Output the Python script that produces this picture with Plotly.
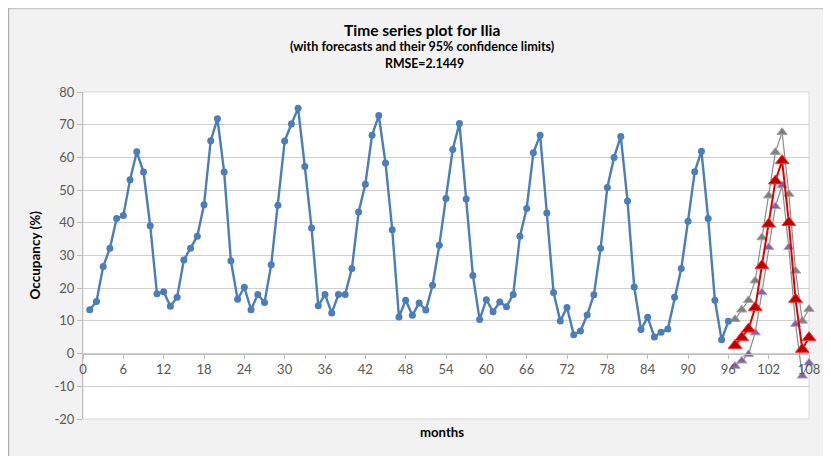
import plotly.graph_objects as go

# ---------------- data ----------------
months = list(range(1, 97))
occupancy = [
    13.4, 15.9, 26.6, 32.2, 41.3, 42.2, 53.2, 61.7, 55.5, 39.1, 18.3, 18.9,
    14.5, 17.2, 28.6, 32.2, 35.9, 45.5, 65.1, 71.8, 55.5, 28.4, 16.6, 20.3,
    13.4, 18.1, 15.6, 27.2, 45.4, 65.0, 70.2, 75.0, 57.2, 38.4, 14.6, 18.1,
    12.4, 18.1, 18.1, 26.0, 43.3, 51.8, 66.8, 72.8, 58.3, 37.9, 11.2, 16.3,
    11.7, 15.5, 13.3, 20.9, 33.1, 47.4, 62.4, 70.4, 47.3, 23.9, 10.4, 16.5,
    12.8, 15.8, 14.3, 18.1, 35.9, 44.4, 61.4, 66.8, 43.0, 18.7, 10.0, 14.1,
    5.8, 6.9, 11.8, 18.0, 32.2, 50.8, 60.0, 66.4, 46.7, 20.4, 7.4, 11.1,
    5.1, 6.5, 7.5, 17.2, 26.0, 40.5, 55.6, 61.9, 41.3, 16.3, 4.2, 9.9,
]
fc_months = list(range(97, 109))
forecast = [2.5, 4.9, 7.5, 14.1, 26.9, 39.6, 52.8, 59.0, 40.1, 16.6, 1.3, 4.9]
upper = [10.5, 13.4, 16.3, 22.3, 35.5, 48.3, 61.6, 67.7, 48.8, 25.3, 10.0, 13.6]
lower = [-3.8, -2.2, -0.2, 6.4, 18.7, 32.5, 45.0, 51.4, 32.5, 9.0, -6.8, -2.8]

x_ticks = list(range(0, 109, 6))
y_ticks = list(range(-20, 81, 10))

title_main = "Time series plot for Ilia"
title_sub = "(with forecasts and their 95% confidence limits)"
title_rmse = "RMSE=2.1449"
x_title = "months"
y_title = "Occupancy (%)"

# ---------------- figure ----------------
FONT = "Lato, 'Open Sans', sans-serif"
OFF = 8  # page body margin
W, H = 831 - OFF, 456 - OFF
# plot area in screen pixels: x 83..809, y 92..419
ML = 83 - OFF
MT = 92 - OFF
MR = W - (809 - OFF)
MB = H - (419 - OFF)
PW, PH = W - ML - MR, H - MT - MB


def px_x(p):  # screen px -> paper x
    return (p - OFF - ML) / PW


def px_y(p):  # screen px -> paper y
    return (H - MB - (p - OFF)) / PH


fig = go.Figure()

fig.add_trace(go.Scatter(
    x=fc_months, y=upper, mode="lines+markers", cliponaxis=False,
    line=dict(color="#8c8c8c", width=1.2),
    marker=dict(symbol="triangle-up", size=9, color="#7f7f7f",
                line=dict(color="#a6a6a6", width=1)),
    showlegend=False, hoverinfo="x+y"))

fig.add_trace(go.Scatter(
    x=fc_months, y=lower, mode="lines+markers", cliponaxis=False,
    line=dict(color="#8c8c8c", width=1.2),
    marker=dict(symbol="triangle-up", size=9, color="#8064a2",
                line=dict(color="#b3a2c7", width=1)),
    showlegend=False, hoverinfo="x+y"))

fig.add_trace(go.Scatter(
    x=fc_months, y=forecast, mode="lines+markers", cliponaxis=False,
    line=dict(color="#e00000", width=2.0),
    marker=dict(symbol="triangle-up", size=12, color="#c00000",
                line=dict(color="#ff3333", width=1)),
    showlegend=False, hoverinfo="x+y"))

fig.add_trace(go.Scatter(
    x=months, y=occupancy, mode="lines+markers", cliponaxis=False,
    line=dict(color="#4a7ebb", width=2.4),
    marker=dict(symbol="circle", size=7, color="#4a7ebb"),
    showlegend=False, hoverinfo="x+y"))

shapes = [
    # chart frame border (top and left)
    dict(type="line", xref="paper", yref="paper",
         x0=px_x(OFF), x1=px_x(900), y0=px_y(OFF + 0.5), y1=px_y(OFF + 0.5),
         line=dict(color="#c8c8c8", width=1.5), layer="below"),
    dict(type="line", xref="paper", yref="paper",
         x0=px_x(OFF + 0.5), x1=px_x(OFF + 0.5), y0=px_y(OFF), y1=px_y(500),
         line=dict(color="#b0b0b0", width=1.5), layer="below"),
    # plot-area border
    dict(type="rect", xref="paper", yref="paper", x0=0, x1=1, y0=0, y1=1,
         line=dict(color="#d9d9d9", width=1), fillcolor="rgba(0,0,0,0)",
         layer="below"),
]

annotations = [
    dict(text="<b>" + title_main + "</b>", x=px_x(422), y=px_y(30),
         xref="paper", yref="paper", showarrow=False,
         font=dict(size=15.5, color="#000000", family=FONT),
         xanchor="center", yanchor="middle"),
    dict(text="<b>" + title_sub + "</b>", x=px_x(422), y=px_y(47),
         xref="paper", yref="paper", showarrow=False,
         font=dict(size=12.6, color="#000000", family=FONT),
         xanchor="center", yanchor="middle"),
    dict(text="<b>" + title_rmse + "</b>", x=px_x(424), y=px_y(63),
         xref="paper", yref="paper", showarrow=False,
         font=dict(size=12.3, color="#000000", family=FONT),
         xanchor="center", yanchor="middle"),
    dict(text="<b>" + x_title + "</b>", x=px_x(442), y=px_y(432),
         xref="paper", yref="paper", showarrow=False,
         font=dict(size=13.2, color="#000000", family=FONT),
         xanchor="center", yanchor="middle"),
    dict(text="<b>" + y_title + "</b>", x=px_x(34), y=0.5,
         xref="paper", yref="paper", showarrow=False, textangle=-90,
         font=dict(size=13.5, color="#000000", family=FONT),
         xanchor="center", yanchor="middle"),
]

fig.update_layout(
    width=W, height=H,
    margin=dict(l=ML, r=MR, t=MT, b=MB, pad=0),
    paper_bgcolor="#f2f2f2",
    plot_bgcolor="white",
    font=dict(family=FONT, size=13, color="#595959"),
    showlegend=False,
    shapes=shapes,
    annotations=annotations,
    xaxis=dict(
        range=[0, 108], tickvals=x_ticks, ticktext=[str(t) for t in x_ticks],
        anchor="free", position=0.2,
        showgrid=False, zeroline=False,
        showline=True, linecolor="#bfbfbf", linewidth=1,
        ticks="outside", ticklen=4, tickcolor="#bfbfbf",
        tickfont=dict(size=13, color="#595959", family=FONT),
    ),
    yaxis=dict(
        range=[-20, 80], tickvals=y_ticks, ticktext=[str(t) for t in y_ticks],
        showgrid=True, gridcolor="#d0d0d0", gridwidth=1.2,
        zeroline=False,
        showline=True, linecolor="#bfbfbf", linewidth=1,
        ticks="outside", ticklen=5, tickcolor="#bfbfbf",
        tickfont=dict(size=13, color="#595959", family=FONT),
    ),
)

fig.write_html("out.html")
